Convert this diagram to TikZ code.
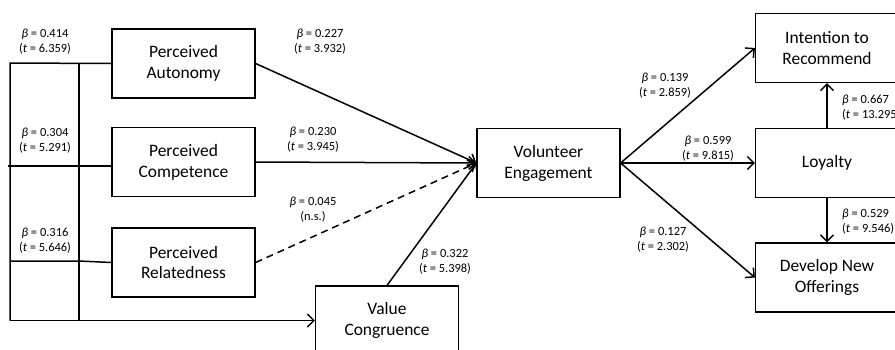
\documentclass[tikz,border=0pt]{standalone}
\usepackage{fontspec}
\setmainfont{Carlito}
\usetikzlibrary{arrows.meta}
\begin{document}
\begin{tikzpicture}[x=1bp,y=-1bp,
 box/.style={draw, line width=1.2bp, minimum width=143bp, minimum height=69bp, align=center, font=\fontsize{17.5}{21}\selectfont, inner sep=0pt},
 lbl/.style={align=center, font=\fontsize{12.5}{15}\selectfont, inner sep=0pt},
 conn/.style={line width=1.5bp},
 arr/.style={conn, -{Straight Barb[length=6.5bp,width=13bp,line width=1.5bp]}},
 dsh/.style={dash pattern=on 7bp off 5bp}]
\useasboundingbox (0,0) rectangle (895,349);
% boxes
\node[box] (pa) at (183.5,63.5) {Perceived\\Autonomy};
\node[box] (pc) at (183.5,162) {Perceived\\Competence};
\node[box] (pr) at (183.5,262.5) {Perceived\\Relatedness};
\node[box] (vc) at (387,320.5) {Value\\Congruence};
\node[box] (ve) at (548.5,163) {Volunteer\\Engagement};
\node[box] (itr) at (827,48) {Intention to\\Recommend};
\node[box] (loy) at (827,163) {Loyalty};
\node[box] (dno) at (827,277.5) {Develop New\\Offerings};
% bracket coordinates
\coordinate (tl) at (10,63);
\coordinate (ti) at (79,63);
\coordinate (bl) at (10,320.5);
\coordinate (bi) at (79,320.5);
\coordinate (ml) at (8,166);
\coordinate (mb) at (112,166);
\coordinate (rl) at (10,261);
\coordinate (ri) at (79,261);
% bracket
\draw[conn] (pa.west) -- (tl) -- (bl);
\draw[conn] (ti) -- (bi);
\draw[conn] (ml) -- (mb);
\draw[conn] (rl) -- (ri) -- (pr.west);
\draw[arr] (bl) -- (vc.west);
% to engagement
\draw[arr] (pa.east) -- (ve.west);
\draw[arr] (pc.east) -- (ve.west);
\draw[arr,dsh] (pr.east) -- (ve.west);
\draw[arr] (vc.north) -- (ve.west);
% outcomes
\draw[arr] (ve.east) -- (itr.west);
\draw[arr] (ve.east) -- (loy.west);
\draw[arr] (ve.east) -- (dno.west);
\draw[arr] (loy.north) -- (itr.south);
\draw[arr] (loy.south) -- (dno.north);
% labels
\node[lbl] (l1) at (45,42) {\textit{β} = 0.414\\(\textit{t} = 6.359)};
\node[lbl] (l2) at (45,141) {\textit{β} = 0.304\\(\textit{t} = 5.291)};
\node[lbl] (l3) at (45,241) {\textit{β} = 0.316\\(\textit{t} = 5.646)};
\node[lbl] (l4) at (320,42) {\textit{β} = 0.227\\(\textit{t} = 3.932)};
\node[lbl] (l5) at (313,140) {\textit{β} = 0.230\\(\textit{t} = 3.945)};
\node[lbl] (l6) at (313,210) {\textit{β} = 0.045\\(n.s.)};
\node[lbl] (l7) at (445,262) {\textit{β} = 0.322\\(\textit{t} = 5.398)};
\node[lbl] (l8) at (665,86) {\textit{β} = 0.139\\(\textit{t} = 2.859)};
\node[lbl] (l9) at (708,149) {\textit{β} = 0.599\\(\textit{t} = 9.815)};
\node[lbl] (l10) at (663,240) {\textit{β} = 0.127\\(\textit{t} = 2.302)};
\node[lbl,anchor=west,align=left] (l11) at (842,108) {\textit{β} = 0.667\\(\textit{t} = 13.295)};
\node[lbl,anchor=west,align=left] (l12) at (842,222) {\textit{β} = 0.529\\(\textit{t} = 9.546)};
\end{tikzpicture}
\end{document}
